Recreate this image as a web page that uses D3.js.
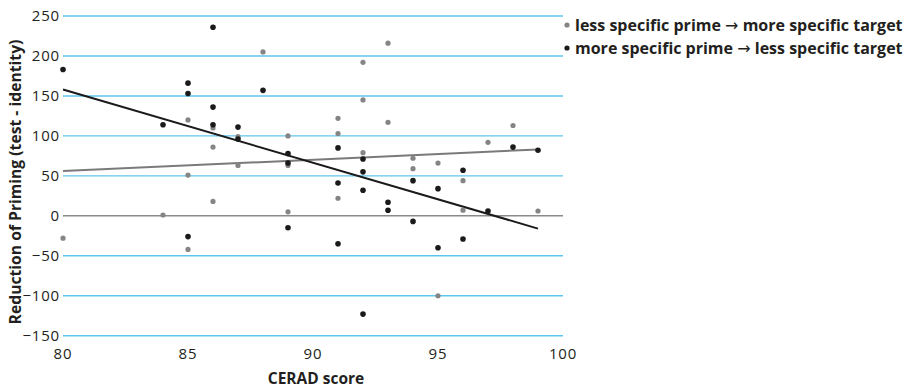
<!DOCTYPE html>
<html>
<head>
<meta charset="utf-8">
<script src="https://cdn.jsdelivr.net/npm/d3@7"></script>
<style>
  body { margin: 0; background: #fff; }
  text { font-family: "Open Sans", sans-serif; fill: #231f20; }
</style>
</head>
<body>
<div id="chart"></div>
<script>
// CERAD score (x) and reduction of priming (y)
var lessSpecX = [80, 84, 85, 85, 85, 86, 86, 86, 87, 87, 88, 89, 89, 89, 91, 91, 91, 92, 92, 92, 93, 93, 94, 94, 95, 95, 96, 96, 97, 98, 99];
var lessSpecY = [-28, 1, 120, 51, -42, 110, 86, 18, 99, 63, 205, 100, 63, 5, 122, 103, 22, 192, 145, 79, 216, 117, 72, 59, 66, -100, 44, 7, 92, 113, 6];

var moreSpecX = [80, 84, 85, 85, 85, 86, 86, 86, 87, 87, 88, 89, 89, 89, 91, 91, 91, 92, 92, 92, 92, 93, 93, 94, 94, 95, 95, 96, 96, 97, 98, 99];
var moreSpecY = [183, 114, 166, 153, -26, 236, 136, 114, 111, 96, 157, 78, 66, -15, 85, 41, -35, 71, 55, 32, -123, 17, 7, 44, -7, 34, -40, 57, -29, 6, 86, 82];

// fitted lines, end points as drawn
var lessFitX = [80, 99];
var lessFitY = [56, 83];
var moreFitX = [80, 99];
var moreFitY = [158, -16];

var xTicks = [80, 85, 90, 95, 100];
var yTicks = [-150, -100, -50, 0, 50, 100, 150, 200, 250];

// legend text split round the arrow
var legendLeft = ["less specific prime", "more specific prime"];
var legendRight = ["more specific target", "less specific target"];

var grayCol = "#858585";
var blackCol = "#1a1a1a";

var svg = d3.select("#chart")
            .append("svg")
            .attr("width", 911)
            .attr("height", 390);

var x = d3.scaleLinear().domain([80, 100]).range([63, 563]);
var y = d3.scaleLinear().domain([-150, 250]).range([335.7, 16]);

// horizontal grid lines, zero line is gray
svg.selectAll(".grid")
    .data(yTicks)
    .enter().append("line")
    .attr("class", "grid")
    .attr("x1", x(80))
    .attr("x2", x(100))
    .attr("y1", function(d) { return y(d); })
    .attr("y2", function(d) { return y(d); })
    .style("stroke", function(d) { return d == 0 ? "#8a8a8a" : "#5cc6f0"; })
    .style("stroke-width", 1.4);

// y tick labels
svg.selectAll(".ytick")
    .data(yTicks)
    .enter().append("text")
    .attr("class", "ytick")
    .attr("x", 60)
    .attr("y", function(d) { return y(d) + 5; })
    .attr("text-anchor", "end")
    .style("font-size", "15px")
    .style("letter-spacing", "0.8px")
    .text(function(d) { return d < 0 ? "\u2212" + Math.abs(d) : d; });

// x tick labels
svg.selectAll(".xtick")
    .data(xTicks)
    .enter().append("text")
    .attr("class", "xtick")
    .attr("x", function(d) { return x(d); })
    .attr("y", 359)
    .attr("text-anchor", "middle")
    .style("font-size", "15px")
    .style("letter-spacing", "0.8px")
    .text(function(d) { return d; });

// axis titles
svg.append("text")
    .attr("x", 316)
    .attr("y", 384)
    .attr("text-anchor", "middle")
    .style("font-size", "15.5px")
    .style("font-weight", "bold")
    .text("CERAD score");

svg.append("text")
    .attr("transform", "translate(21,182) rotate(-90)")
    .attr("text-anchor", "middle")
    .style("font-size", "15.7px")
    .style("font-weight", "bold")
    .text("Reduction of Priming (test - identity)");

// fit lines
var fit = d3.line()
    .x(function(d) { return x(d[0]); })
    .y(function(d) { return y(d[1]); });

svg.append("path")
    .datum(d3.zip(lessFitX, lessFitY))
    .attr("d", fit)
    .style("fill", "none")
    .style("stroke", "#7a7a7a")
    .style("stroke-width", 2);

svg.append("path")
    .datum(d3.zip(moreFitX, moreFitY))
    .attr("d", fit)
    .style("fill", "none")
    .style("stroke", blackCol)
    .style("stroke-width", 2);

// points
svg.selectAll(".less")
    .data(d3.zip(lessSpecX, lessSpecY))
    .enter().append("circle")
    .attr("class", "less")
    .attr("cx", function(d) { return x(d[0]); })
    .attr("cy", function(d) { return y(d[1]); })
    .attr("r", 2.6)
    .style("fill", grayCol);

svg.selectAll(".more")
    .data(d3.zip(moreSpecX, moreSpecY))
    .enter().append("circle")
    .attr("class", "more")
    .attr("cx", function(d) { return x(d[0]); })
    .attr("cy", function(d) { return y(d[1]); })
    .attr("r", 2.8)
    .style("fill", blackCol);

// legend
var legend = svg.selectAll(".legend")
    .data(legendLeft)
    .enter().append("g")
    .attr("class", "legend")
    .attr("transform", function(d, i) { return "translate(567," + (25 + i * 23) + ")"; });

legend.append("circle")
    .attr("r", 2.6)
    .style("fill", function(d, i) { return i == 0 ? grayCol : blackCol; });

var legText = legend.append("text")
    .attr("x", 8)
    .attr("y", 6)
    .style("font-size", "16px")
    .style("font-weight", "bold");

legText.append("tspan").text(function(d) { return d + " "; });
legText.append("tspan")
    .style("font-family", "DejaVu Sans")
    .style("font-weight", "normal")
    .text("\u2192");
legText.append("tspan").text(function(d, i) { return " " + legendRight[i]; });
</script>
</body>
</html>
